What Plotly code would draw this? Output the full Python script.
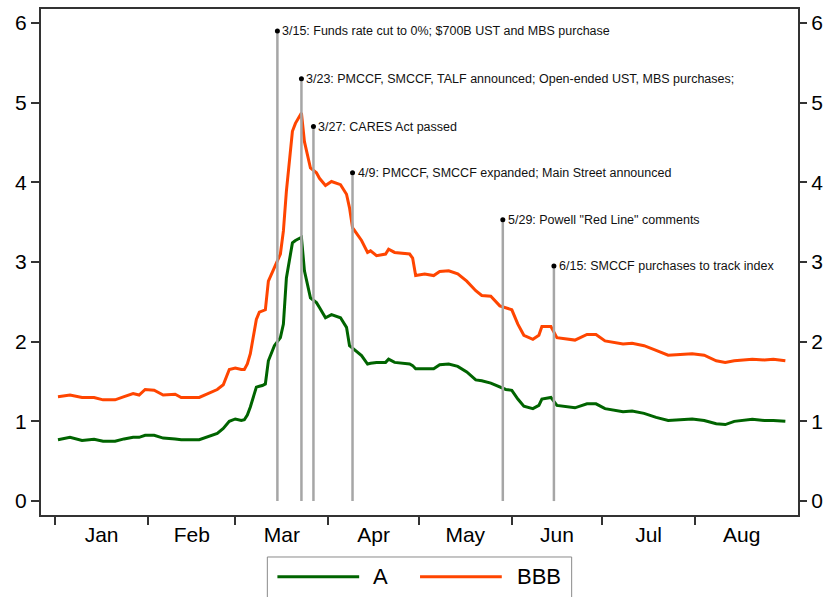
import plotly.graph_objects as go
import pandas as pd

# ---------------- data ----------------
dates = [
    "2020-01-02", "2020-01-06", "2020-01-10", "2020-01-14", "2020-01-17", "2020-01-21",
    "2020-01-24", "2020-01-27", "2020-01-29", "2020-01-31", "2020-02-03", "2020-02-06",
    "2020-02-10", "2020-02-12", "2020-02-18", "2020-02-21", "2020-02-24", "2020-02-26",
    "2020-02-28", "2020-03-01", "2020-03-03", "2020-03-04", "2020-03-05", "2020-03-06",
    "2020-03-08", "2020-03-09", "2020-03-10", "2020-03-11", "2020-03-12", "2020-03-14",
    "2020-03-16", "2020-03-17", "2020-03-18", "2020-03-20", "2020-03-21", "2020-03-23",
    "2020-03-24", "2020-03-26", "2020-03-28", "2020-03-29", "2020-03-31", "2020-04-02",
    "2020-04-05", "2020-04-07", "2020-04-08", "2020-04-09", "2020-04-10", "2020-04-12",
    "2020-04-14", "2020-04-15", "2020-04-17", "2020-04-20", "2020-04-21", "2020-04-23",
    "2020-04-28", "2020-04-29", "2020-04-30", "2020-05-03", "2020-05-06", "2020-05-08",
    "2020-05-11", "2020-05-14", "2020-05-17", "2020-05-20", "2020-05-22", "2020-05-25",
    "2020-05-28", "2020-05-30", "2020-06-01", "2020-06-03", "2020-06-05", "2020-06-08",
    "2020-06-10", "2020-06-11", "2020-06-14", "2020-06-16", "2020-06-22", "2020-06-26",
    "2020-06-29", "2020-07-02", "2020-07-08", "2020-07-11", "2020-07-15", "2020-07-19",
    "2020-07-23", "2020-07-27", "2020-07-31", "2020-08-04", "2020-08-08", "2020-08-11",
    "2020-08-14", "2020-08-20", "2020-08-24", "2020-08-27", "2020-08-31",
]
bbb_vals = [
    1.31, 1.33, 1.30, 1.30, 1.27, 1.27,
    1.31, 1.35, 1.33, 1.40, 1.39, 1.33,
    1.34, 1.30, 1.30, 1.35, 1.40, 1.46,
    1.65, 1.67, 1.65, 1.65, 1.72, 1.85,
    2.28, 2.37, 2.39, 2.40, 2.76, 2.93,
    3.10, 3.39, 3.89, 4.64, 4.74, 4.87,
    4.51, 4.18, 4.12, 4.05, 3.96, 4.01,
    3.97, 3.85, 3.68, 3.43, 3.38, 3.27,
    3.12, 3.14, 3.08, 3.10, 3.16, 3.12,
    3.10, 3.05, 2.83, 2.85, 2.83, 2.88,
    2.89, 2.85, 2.76, 2.64, 2.58, 2.57,
    2.45, 2.42, 2.40, 2.22, 2.08, 2.03,
    2.08, 2.19, 2.19, 2.05, 2.02, 2.09,
    2.09, 2.01, 1.97, 1.98, 1.95, 1.89,
    1.83, 1.84, 1.85, 1.83, 1.76, 1.74,
    1.76, 1.78, 1.77, 1.78, 1.76,
]
a_vals = [
    0.77, 0.80, 0.76, 0.775, 0.75, 0.75,
    0.78, 0.80, 0.80, 0.825, 0.825, 0.79,
    0.78, 0.77, 0.77, 0.81, 0.85, 0.91,
    1.00, 1.03, 1.01, 1.02, 1.08, 1.18,
    1.43, 1.44, 1.45, 1.47, 1.76, 1.95,
    2.05, 2.22, 2.80, 3.24, 3.27, 3.31,
    2.89, 2.55, 2.49, 2.43, 2.30, 2.34,
    2.30, 2.18, 1.95, 1.92, 1.89, 1.825,
    1.72, 1.73, 1.74, 1.74, 1.78, 1.74,
    1.72, 1.70, 1.66, 1.66, 1.66, 1.71,
    1.72, 1.69, 1.62, 1.52, 1.51, 1.48,
    1.43, 1.40, 1.39, 1.28, 1.19, 1.16,
    1.20, 1.28, 1.30, 1.20, 1.17, 1.22,
    1.22, 1.16, 1.12, 1.13, 1.10, 1.05,
    1.01, 1.02, 1.03, 1.01, 0.97, 0.96,
    1.00, 1.025, 1.01, 1.01, 1.00,
]

event_dates = ["2020-03-15", "2020-03-23", "2020-03-27", "2020-04-09", "2020-05-29", "2020-06-15"]
event_tops = [5.9, 5.3, 4.7, 4.12, 3.53, 2.95]
event_labels = [
    "3/15: Funds rate cut to 0%; $700B UST and MBS purchase",
    "3/23: PMCCF, SMCCF, TALF announced; Open-ended UST, MBS purchases;",
    "3/27: CARES Act passed",
    "4/9: PMCCF, SMCCF expanded; Main Street announced",
    "5/29: Powell \"Red Line\" comments",
    "6/15: SMCCF purchases to track index",
]

month_labels = ["Jan", "Feb", "Mar", "Apr", "May", "Jun", "Jul", "Aug"]
month_starts = ["2020-01-01", "2020-02-01", "2020-03-01", "2020-04-01", "2020-05-01",
                "2020-06-01", "2020-07-01", "2020-08-01", "2020-09-01"]
y_ticks = [0, 1, 2, 3, 4, 5, 6]

series_names = ["A", "BBB"]
series_colors = ["#006400", "#FF4500"]

# ---------------- derived positions ----------------
starts = pd.to_datetime(month_starts)
mids = [starts[i] + (starts[i + 1] - starts[i]) / 2 for i in range(len(month_labels))]
tick_starts = list(starts[:len(month_labels)])

x_range = ["2019-12-27 08:30", "2020-09-04 05:00"]
y_range = [-0.175, 6.175]

FONT = "Arial, Liberation Sans, Helvetica, sans-serif"
AXC = "#333333"
TF = 21

fig = go.Figure()

fig.add_trace(go.Scatter(x=dates, y=a_vals, mode="lines", name=series_names[0],
                         line=dict(color=series_colors[0], width=3), showlegend=False))
fig.add_trace(go.Scatter(x=dates, y=bbb_vals, mode="lines", name=series_names[1],
                         line=dict(color=series_colors[1], width=3), showlegend=False))

# event lines
ex, ey = [], []
for d, t in zip(event_dates, event_tops):
    ex += [d, d, None]
    ey += [0, t, None]
fig.add_trace(go.Scatter(x=ex, y=ey, mode="lines", line=dict(color="#A6A6A6", width=2.5),
                         showlegend=False, hoverinfo="skip"))
fig.add_trace(go.Scatter(x=event_dates, y=event_tops, mode="markers",
                         marker=dict(color="black", size=5), showlegend=False, hoverinfo="skip"))

# invisible trace for secondary axes (right y labels, month labels)
fig.add_trace(go.Scatter(x=dates, y=a_vals, mode="lines", xaxis="x2", yaxis="y2",
                         opacity=0, showlegend=False, hoverinfo="skip"))

for d, t, lab in zip(event_dates, event_tops, event_labels):
    fig.add_annotation(x=d, y=t, text=lab, showarrow=False, xanchor="left", yanchor="middle",
                       xshift=3, font=dict(family=FONT, size=12.5, color="#111111"))

# custom legend
fig.add_shape(type="rect", xref="paper", yref="paper", x0=0.299, x1=0.701, y0=-0.175, y1=-0.083,
              line=dict(color="#8a8a8a", width=1), fillcolor="white", layer="above")
leg_x = [(0.3123, 0.4203, 0.4387), (0.5007, 0.6087, 0.6285)]
for (x0, x1, xt), name, col in zip(leg_x, series_names, series_colors):
    fig.add_shape(type="line", xref="paper", yref="paper", x0=x0, x1=x1, y0=-0.122, y1=-0.122,
                  line=dict(color=col, width=3))
    fig.add_annotation(xref="paper", yref="paper", x=xt, y=-0.122, text=name, showarrow=False,
                       xanchor="left", yanchor="middle", xshift=-2,
                       font=dict(family=FONT, size=22, color="black"))

fig.update_layout(
    width=830, height=597,
    margin=dict(l=41, r=30, t=7, b=82),
    plot_bgcolor="white", paper_bgcolor="white",
    font=dict(family=FONT, size=TF, color="black"),
    showlegend=False,
    xaxis=dict(range=x_range, type="date", tickmode="array", tickvals=tick_starts,
               showticklabels=False, ticks="outside", ticklen=8, tickwidth=2, tickcolor=AXC,
               showline=True, linewidth=2, linecolor=AXC, mirror=True, showgrid=False,
               zeroline=False),
    xaxis2=dict(range=x_range, type="date", overlaying="x", anchor="y2", side="bottom",
                tickmode="array", tickvals=mids, ticktext=month_labels,
                ticks="outside", ticklen=1, tickcolor="rgba(0,0,0,0)",
                showline=False, showgrid=False, zeroline=False,
                tickfont=dict(family=FONT, size=TF, color="black")),
    yaxis=dict(range=y_range, tickmode="array", tickvals=y_ticks, ticks="outside", ticklen=8,
               tickwidth=2, tickcolor=AXC, showline=True, linewidth=2, linecolor=AXC,
               mirror=True, showgrid=False, zeroline=False,
               tickfont=dict(family=FONT, size=TF, color="black")),
    yaxis2=dict(range=y_range, overlaying="y", side="right", anchor="x2", tickmode="array",
                tickvals=y_ticks, ticks="outside", ticklen=8, tickwidth=2, tickcolor=AXC,
                showline=False, showgrid=False, zeroline=False,
                tickfont=dict(family=FONT, size=TF, color="black")),
)

fig.write_html("out.html", config={"displayModeBar": False},
               post_script="document.body.style.margin='0';")
